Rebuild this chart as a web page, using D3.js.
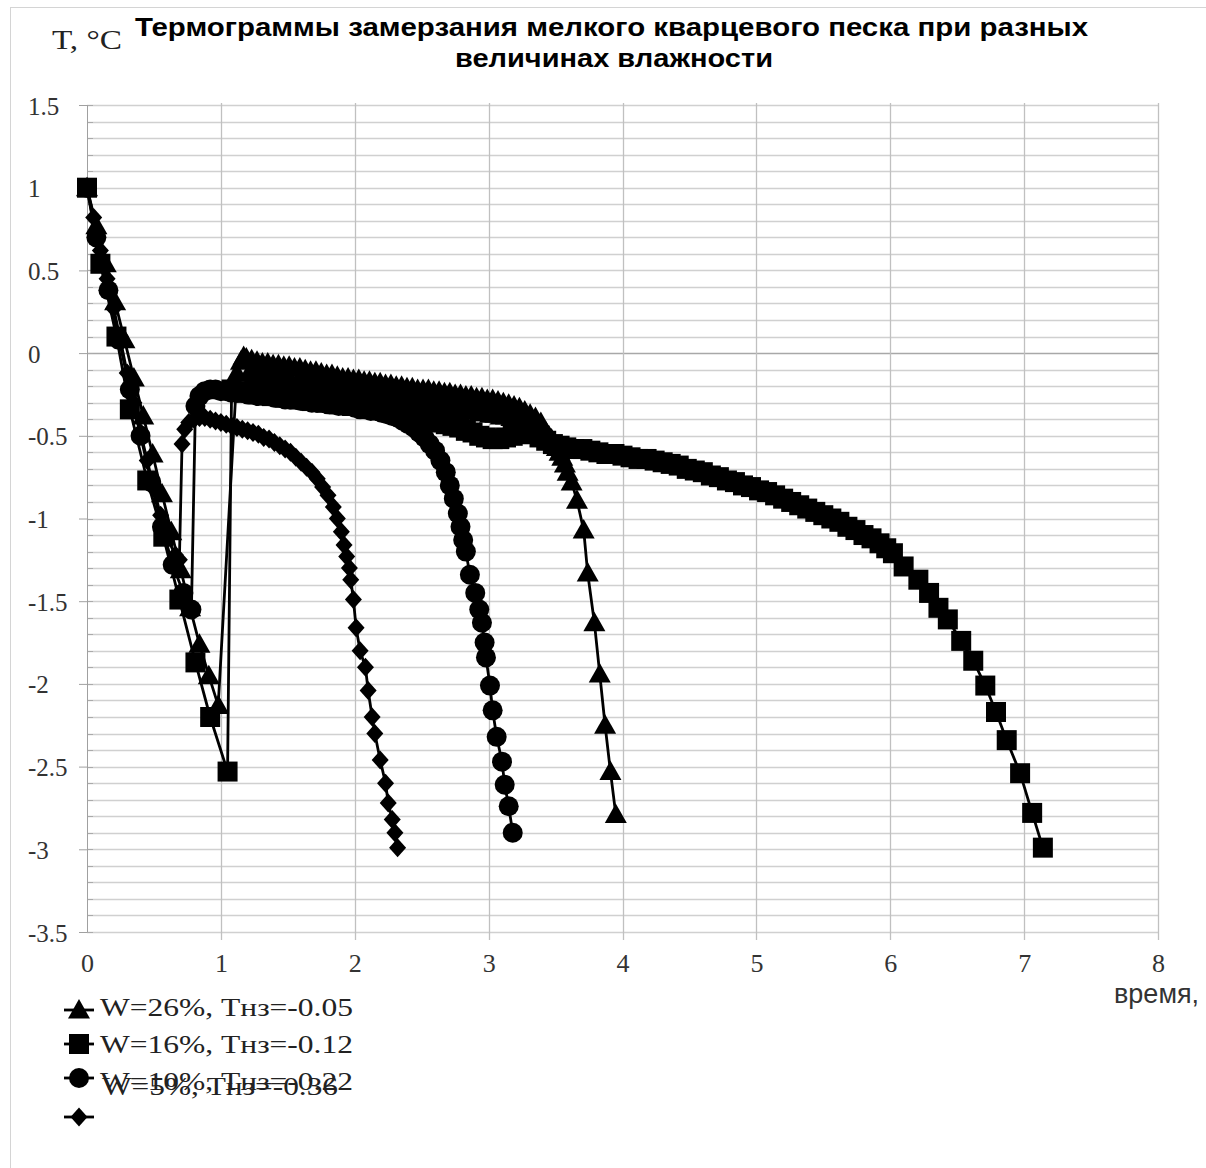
<!DOCTYPE html>
<html><head><meta charset="utf-8">
<script src="https://cdn.jsdelivr.net/npm/d3@7"></script>
<style>body{margin:0;background:#fff}</style>
</head><body><svg id="c" width="1206" height="1168"></svg>
<script>
const xTicks=[0,1,2,3,4,5,6,7,8];
const yTicks=[1.5,1,0.5,0,-0.5,-1,-1.5,-2,-2.5,-3,-3.5];
const yLabels=["1.5","1","0.5","0","-0.5","-1","-1.5","-2","-2.5","-3","-3.5"];
const titleLines=["Термограммы замерзания мелкого кварцевого песка при разных","величинах влажности"];
const seriesNames=["W=26%, Тнз=-0.05","W=16%, Тнз=-0.12","W=10%, Тнз=-0.22","W=5%, Тнз=-0.36"];

// W=26% (triangles)
const w26=[[0,1],[0.07,0.77],[0.14,0.54],[0.21,0.31],[0.28,0.08],[0.35,-0.15],[0.42,-0.38],[0.49,-0.61],[0.56,-0.85],[0.63,-1.08],[0.70,-1.31],[0.77,-1.54],[0.84,-1.76],[0.91,-1.95],[0.98,-2.13],
[1.12,-0.12],[1.15,-0.05],[1.17,-0.02],
[1.19,-0.03],[1.21,-0.12],[1.23,-0.04],[1.25,-0.13],[1.27,-0.05],[1.29,-0.14],[1.31,-0.06],[1.33,-0.15],[1.35,-0.06],[1.37,-0.16],[1.39,-0.07],[1.41,-0.16],[1.43,-0.07],[1.45,-0.17],[1.47,-0.08],[1.49,-0.17],[1.51,-0.08],[1.53,-0.18],[1.55,-0.09],[1.57,-0.18],[1.59,-0.09],[1.61,-0.19],[1.63,-0.10],[1.65,-0.19],[1.67,-0.11],[1.69,-0.20],[1.71,-0.11],[1.73,-0.21],[1.75,-0.12],[1.77,-0.21],[1.79,-0.13],[1.81,-0.22],[1.83,-0.13],[1.85,-0.22],[1.87,-0.14],[1.89,-0.23],[1.91,-0.15],[1.93,-0.23],[1.95,-0.15],[1.97,-0.24],[1.99,-0.16],
[2.01,-0.24],[2.03,-0.16],[2.05,-0.25],[2.07,-0.17],[2.09,-0.25],[2.11,-0.17],[2.13,-0.26],[2.15,-0.18],[2.17,-0.26],[2.19,-0.18],[2.21,-0.27],[2.23,-0.19],[2.25,-0.27],[2.27,-0.19],[2.29,-0.28],[2.31,-0.20],[2.33,-0.28],[2.35,-0.20],[2.37,-0.29],[2.39,-0.21],[2.41,-0.29],[2.43,-0.21],[2.45,-0.30],[2.47,-0.22],[2.49,-0.30],[2.51,-0.22],[2.53,-0.31],[2.55,-0.22],[2.57,-0.31],[2.59,-0.23],[2.61,-0.32],[2.63,-0.23],[2.65,-0.32],[2.67,-0.24],[2.69,-0.33],[2.71,-0.24],[2.73,-0.33],[2.75,-0.25],[2.77,-0.34],[2.79,-0.25],[2.81,-0.34],[2.83,-0.26],[2.85,-0.35],[2.87,-0.26],[2.89,-0.35],[2.91,-0.27],[2.93,-0.36],[2.95,-0.27],[2.97,-0.36],[2.99,-0.28],
[3.01,-0.37],[3.03,-0.28],[3.05,-0.37],[3.07,-0.29],[3.09,-0.38],[3.11,-0.30],[3.13,-0.38],[3.15,-0.31],[3.17,-0.39],[3.19,-0.32],[3.21,-0.40],[3.23,-0.33],[3.25,-0.41],[3.27,-0.35],[3.29,-0.42],[3.31,-0.37],[3.33,-0.43],[3.35,-0.39],[3.37,-0.45],[3.39,-0.42],[3.41,-0.46],[3.43,-0.48],[3.45,-0.50],[3.47,-0.52],[3.49,-0.54],[3.51,-0.57],[3.53,-0.60],[3.55,-0.63],[3.57,-0.67],
[3.59,-0.72],[3.62,-0.78],[3.66,-0.89],[3.71,-1.07],[3.74,-1.33],[3.79,-1.63],[3.83,-1.94],[3.87,-2.25],[3.91,-2.53],[3.95,-2.79]];

// W=16% (squares)
const w16=[[0,1],[0.10,0.54],[0.22,0.10],[0.32,-0.34],[0.45,-0.77],[0.57,-1.11],[0.69,-1.49],[0.81,-1.87],[0.92,-2.20],[1.05,-2.53],
[1.08,-0.22],[1.13,-0.23],[1.18,-0.24],[1.23,-0.24],[1.28,-0.25],[1.33,-0.25],[1.38,-0.26],[1.43,-0.26],[1.48,-0.27],[1.53,-0.27],[1.58,-0.28],[1.63,-0.28],[1.68,-0.29],[1.73,-0.29],[1.78,-0.30],[1.83,-0.30],[1.88,-0.31],[1.93,-0.31],[1.98,-0.32],[2.03,-0.32],[2.08,-0.33],[2.13,-0.33],[2.18,-0.34],[2.23,-0.35],[2.28,-0.35],[2.33,-0.36],[2.38,-0.37],[2.43,-0.38],[2.48,-0.39],[2.53,-0.40],[2.58,-0.41],[2.63,-0.42],[2.68,-0.43],[2.73,-0.44],[2.78,-0.45],[2.83,-0.47],[2.88,-0.48],[2.93,-0.50],[2.98,-0.51],[3.03,-0.52],[3.08,-0.52],[3.13,-0.51],[3.18,-0.50],[3.23,-0.49],[3.28,-0.48],[3.33,-0.49],[3.38,-0.51],[3.43,-0.53],[3.48,-0.55],[3.53,-0.56],[3.58,-0.57],
[3.64,-0.58],[3.70,-0.58],[3.76,-0.59],[3.82,-0.60],[3.88,-0.61],[3.94,-0.61],[4.00,-0.62],[4.06,-0.63],[4.12,-0.64],[4.18,-0.64],[4.24,-0.65],[4.30,-0.66],[4.36,-0.67],[4.42,-0.68],[4.48,-0.70],[4.54,-0.71],[4.60,-0.72],[4.66,-0.74],[4.72,-0.75],[4.78,-0.77],[4.84,-0.78],[4.90,-0.80],[4.96,-0.81],[5.02,-0.83],[5.08,-0.84],[5.14,-0.86],[5.20,-0.88],[5.26,-0.90],[5.32,-0.92],[5.38,-0.94],[5.44,-0.96],[5.50,-0.98],[5.56,-1.00],[5.62,-1.02],[5.68,-1.05],[5.74,-1.07],[5.80,-1.10],[5.86,-1.12],[5.92,-1.15],[5.97,-1.18],
[6.02,-1.21],[6.10,-1.29],[6.21,-1.37],[6.29,-1.45],[6.36,-1.54],[6.43,-1.61],[6.53,-1.74],[6.62,-1.86],[6.71,-2.01],[6.79,-2.17],[6.87,-2.34],[6.97,-2.54],[7.06,-2.78],[7.14,-2.99]];

// W=10% (circles)
const w10=[[0,1],[0.07,0.70],[0.16,0.38],[0.24,0.08],[0.32,-0.22],[0.40,-0.50],[0.48,-0.78],[0.56,-1.05],[0.64,-1.28],[0.72,-1.45],[0.78,-1.55],
[0.81,-0.32],[0.84,-0.26],[0.88,-0.23],[0.92,-0.22],[0.96,-0.22],[1.00,-0.23],[1.04,-0.23],[1.08,-0.24],[1.12,-0.24],[1.16,-0.24],[1.20,-0.25],[1.24,-0.25],[1.28,-0.26],[1.32,-0.26],[1.36,-0.26],[1.40,-0.27],[1.44,-0.27],[1.48,-0.28],[1.52,-0.28],[1.56,-0.28],[1.60,-0.29],[1.64,-0.29],[1.68,-0.30],[1.72,-0.30],[1.76,-0.30],[1.80,-0.31],[1.84,-0.31],[1.88,-0.32],[1.92,-0.32],[1.96,-0.32],[2.00,-0.33],[2.04,-0.34],[2.08,-0.34],[2.12,-0.35],[2.16,-0.35],[2.20,-0.36],[2.24,-0.37],[2.28,-0.38],[2.32,-0.39],[2.36,-0.41],[2.40,-0.43],[2.44,-0.45],[2.48,-0.48],[2.52,-0.51],[2.56,-0.55],[2.60,-0.59],[2.64,-0.65],[2.68,-0.72],[2.71,-0.80],[2.74,-0.88],[2.77,-0.97],[2.79,-1.05],[2.81,-1.13],[2.83,-1.20],[2.86,-1.34],[2.90,-1.45],[2.93,-1.55],[2.95,-1.63],[2.97,-1.75],[2.98,-1.84],[3.01,-2.01],[3.03,-2.16],[3.06,-2.32],[3.10,-2.47],[3.12,-2.61],[3.15,-2.74],[3.18,-2.90]];

// W=5% (diamonds)
const w5=[[0,1],[0.05,0.82],[0.10,0.62],[0.15,0.45],[0.20,0.27],[0.25,0.08],[0.30,-0.12],[0.35,-0.30],[0.40,-0.48],[0.45,-0.65],[0.50,-0.82],[0.55,-0.98],[0.60,-1.12],[0.66,-1.22],[0.69,-1.25],
[0.71,-0.55],[0.73,-0.46],[0.76,-0.42],[0.80,-0.40],[0.84,-0.39],[0.88,-0.39],[0.92,-0.40],[0.96,-0.41],[1.00,-0.42],[1.04,-0.43],[1.08,-0.44],[1.12,-0.45],[1.16,-0.46],[1.20,-0.47],[1.24,-0.48],[1.28,-0.49],[1.32,-0.51],[1.36,-0.52],[1.40,-0.54],[1.44,-0.56],[1.48,-0.58],[1.52,-0.60],[1.56,-0.63],[1.60,-0.66],[1.64,-0.69],[1.68,-0.72],[1.72,-0.76],[1.76,-0.81],[1.80,-0.86],[1.84,-0.93],[1.87,-1.00],[1.90,-1.08],[1.92,-1.16],[1.94,-1.23],[1.96,-1.30],[1.97,-1.37],[1.99,-1.49],[2.01,-1.66],[2.04,-1.80],[2.08,-1.90],[2.10,-2.04],[2.13,-2.20],[2.15,-2.30],[2.19,-2.46],[2.23,-2.60],[2.25,-2.72],[2.28,-2.82],[2.30,-2.90],[2.32,-2.99]];

const series=[w26,w16,w10,w5];
const markers=["tri","sq","circ","dia"];

const svg=d3.select("#c");
const x=d3.scaleLinear().domain([0,8]).range([87,1158]);
const y=d3.scaleLinear().domain([-3.5,1.5]).range([932,105]);

function mpath(t){
  if(t==="tri") return "M0,-11L11,8.5L-11,8.5Z";
  if(t==="sq") return "M-10,-10H10V10H-10Z";
  if(t==="circ") return "M10,0A10,10 0 1,1 -10,0A10,10 0 1,1 10,0Z";
  return "M0,-9.5L8.5,0L0,9.5L-8.5,0Z";
}

// frame
svg.append("rect").attr("x",10.5).attr("y",7.5).attr("width",1200).attr("height",1170)
  .attr("fill","none").attr("stroke","#d4d4d4");

// minor horizontal gridlines every 0.1
svg.append("g").selectAll("line").data(y.ticks(50)).join("line")
  .attr("x1",87).attr("x2",1158).attr("y1",d=>Math.round(y(d))+0.5).attr("y2",d=>Math.round(y(d))+0.5)
  .attr("stroke",d=>Math.abs(d)<1e-9?"#a8a8a8":"#d0d0d0").attr("stroke-width",1.6);
// minor tick marks on y axis
svg.append("g").selectAll("line").data(y.ticks(50)).join("line")
  .attr("x1",87).attr("x2",93).attr("y1",d=>Math.round(y(d))+0.5).attr("y2",d=>Math.round(y(d))+0.5)
  .attr("stroke","#aaa");
// vertical gridlines
svg.append("g").selectAll("line").data(xTicks.slice(1)).join("line")
  .attr("x1",d=>Math.round(x(d))+0.5).attr("x2",d=>Math.round(x(d))+0.5).attr("y1",103).attr("y2",940)
  .attr("stroke","#c0c0c0").attr("stroke-width",1.3);

// y axis
const yAxis=svg.append("g").attr("transform","translate(87,0)")
  .call(d3.axisLeft(y).tickValues(yTicks).tickSize(8).tickFormat((d,i)=>yLabels[i]));
yAxis.select(".domain").attr("stroke","#a0a0a0").attr("d","M0.5,105V932");
yAxis.selectAll(".tick line").attr("stroke","#a0a0a0");
yAxis.selectAll(".tick text").attr("text-anchor","start").attr("x",-59).attr("dy","0.36em")
  .attr("font-family","Liberation Serif, Times New Roman, serif").attr("font-size",25).attr("fill","#333");

// x axis labels
const xAxis=svg.append("g").attr("transform","translate(0,932)")
  .call(d3.axisBottom(x).tickValues(xTicks).tickSize(0).tickPadding(0));
xAxis.select(".domain").remove();
xAxis.selectAll(".tick text").attr("y",40).attr("dy",0)
  .attr("font-family","Liberation Serif, Times New Roman, serif").attr("font-size",26).attr("fill","#333");

// series lines and markers
const line=d3.line().x(d=>x(d[0])).y(d=>y(d[1]));
series.forEach((s,i)=>{
  const g=svg.append("g");
  g.append("path").datum(s).attr("d",line).attr("fill","none").attr("stroke","#000").attr("stroke-width",2.8);
  g.selectAll("path.m").data(s).join("path").attr("class","m")
    .attr("transform",d=>`translate(${x(d[0])},${y(d[1])})`).attr("d",mpath(markers[i])).attr("fill","#000");
});

// title
const tf="Liberation Sans, Arial, sans-serif";
svg.append("text").attr("x",135).attr("y",36).attr("font-family",tf).attr("font-weight","bold").attr("font-size",25)
  .attr("textLength",953).attr("lengthAdjust","spacingAndGlyphs").text(titleLines[0]);
svg.append("text").attr("x",455).attr("y",67).attr("font-family",tf).attr("font-weight","bold").attr("font-size",25)
  .attr("textLength",318).attr("lengthAdjust","spacingAndGlyphs").text(titleLines[1]);
svg.append("text").attr("x",52).attr("y",49).attr("font-family","Liberation Serif, serif").attr("font-size",28)
  .attr("fill","#222").attr("textLength",70).attr("lengthAdjust","spacingAndGlyphs").text("T, °C");
svg.append("text").attr("x",1114).attr("y",1003).attr("font-family",tf).attr("font-size",27)
  .attr("fill","#333").text("время,");

// legend
const legRows=[{my:1010,ty:1016,tx:100,w:253},{my:1044,ty:1053,tx:100,w:253},{my:1078,ty:1090,tx:100,w:253},{my:1117,ty:1095,tx:102,w:236}];
legRows.forEach((r,i)=>{
  svg.append("line").attr("x1",64).attr("x2",94).attr("y1",r.my).attr("y2",r.my).attr("stroke","#000").attr("stroke-width",2.8);
  svg.append("path").attr("transform",`translate(79,${r.my})`).attr("d",mpath(markers[i])).attr("fill","#000");
  svg.append("text").attr("x",r.tx).attr("y",r.ty).attr("font-family","Liberation Serif, Times New Roman, serif")
    .attr("font-size",26).attr("fill","#222").attr("textLength",r.w).attr("lengthAdjust","spacingAndGlyphs").text(seriesNames[i]);
});
</script></body></html>
